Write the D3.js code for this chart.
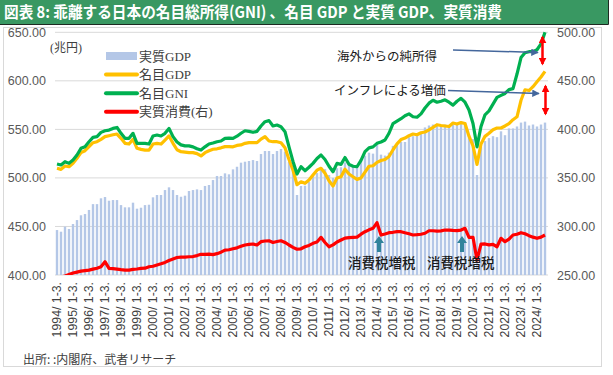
<!DOCTYPE html>
<html>
<head>
<meta charset="utf-8">
<script src="https://cdn.jsdelivr.net/npm/d3@7"></script>
<style>
  body { margin: 0; background: #fff; }
  svg { display: block; font-family: "Liberation Sans", Arial, sans-serif; }
</style>
</head>
<body>
<svg width="613" height="375"></svg>
<script>
// ---- data (trillion yen, quarterly, 1994 Q1 .. 2024 Q3) ----
const years = [1994, 1995, 1996, 1997, 1998, 1999, 2000, 2001, 2002, 2003, 2004,
  2005, 2006, 2007, 2008, 2009, 2010, 2011, 2012, 2013, 2014, 2015, 2016, 2017,
  2018, 2019, 2020, 2021, 2022, 2023, 2024];
const quarterNames = ['1-3.', '4-6.', '7-9.', '10-12.'];

const realGDP = [
  446.3, 444.6, 449.8, 447.4, 452.5, 456.6, 461.5, 462.8, 467.0, 473.0,
  473.0, 479.0, 480.3, 476.5, 477.2, 477.2, 472.0, 469.7, 469.7, 474.5,
  468.3, 469.3, 472.0, 472.4, 480.0, 482.4, 482.4, 487.5, 490.3, 487.5,
  482.4, 480.6, 481.7, 486.5, 487.5, 488.2, 487.5, 491.7, 492.7, 497.8,
  502.0, 502.0, 504.7, 503.7, 508.8, 511.5, 515.7, 516.7, 517.4, 518.4,
  517.4, 524.6, 527.7, 527.7, 524.6, 527.7, 529.8, 527.0, 516.7, 508.0,
  482.4, 491.7, 492.0, 496.0, 502.0, 505.0, 510.0, 509.0, 503.0, 500.0,
  510.0, 511.0, 516.0, 514.0, 512.0, 512.0, 519.0, 523.0, 526.0, 525.0,
  535.0, 524.0, 523.0, 526.0, 533.0, 535.0, 537.0, 537.0, 542.0, 543.0,
  545.0, 547.0,
  552.0, 554.0, 555.0, 555.0, 554.0, 555.0, 554.0, 555.0, 556.0, 557.0,
  557.0, 543.0, 540.0, 503.0, 532.0, 538.0, 541.0, 543.0, 542.0, 548.0,
  544.0, 551.0, 551.0, 553.0, 557.0, 558.0, 554.0, 555.0, 553.0, 555.0,
  557.0
];

const nominalGDP = [
  509.9, 508.8, 512.3, 511.5, 515.0, 520.2, 526.0, 528.0, 532.2, 536.3,
  537.3, 539.7, 542.5, 543.5, 544.5, 545.2, 540.8, 535.6, 534.9, 539.7,
  530.5, 529.4, 528.7, 528.7, 534.9, 535.6, 534.9, 539.0, 543.2, 535.6,
  529.0, 527.0, 526.5, 526.0, 526.0, 525.0, 522.6, 526.0, 528.0, 529.5,
  530.0, 531.0, 532.2, 532.2, 532.0, 533.5, 534.0, 535.6, 536.3, 536.3,
  536.3, 540.0, 542.5, 538.0, 537.3, 537.3, 536.3, 531.0, 519.0, 508.0,
  493.0, 496.0, 494.4, 497.8, 503.0, 508.0, 509.9, 504.7, 497.0, 491.7,
  500.0, 501.2, 509.0, 504.0, 501.2, 498.5, 500.0, 506.0, 512.0, 512.5,
  516.0, 518.0, 519.0, 522.0, 529.0, 535.0, 539.5, 541.0, 543.5, 545.2,
  544.5, 546.5,
  547.3, 549.5, 552.0, 554.8, 554.0, 553.5, 553.0, 556.5, 555.5, 557.0,
  556.0, 543.0, 533.0, 514.0, 535.0, 542.8, 546.0, 549.6, 551.4, 551.4,
  553.5, 556.0, 560.0, 563.0, 580.0, 590.8, 590.0, 594.0, 599.0, 604.0,
  609.8
];

const nominalGNI = [
  514.3, 513.3, 516.7, 515.0, 518.4, 523.6, 530.5, 532.2, 537.3, 541.8,
  542.5, 546.9, 548.6, 549.3, 551.0, 552.0, 545.9, 540.8, 540.8, 545.9,
  535.6, 535.6, 535.6, 534.9, 543.2, 544.2, 543.2, 545.9, 551.0, 542.5,
  537.0, 534.0, 533.0, 533.0, 532.0, 530.0, 528.7, 532.0, 535.0, 536.0,
  537.3, 538.0, 540.8, 541.0, 540.8, 543.0, 546.0, 548.6, 548.0, 547.0,
  548.0, 553.5, 557.9, 559.0, 553.5, 554.5, 552.8, 547.6, 532.0, 517.0,
  504.0, 511.5, 507.4, 511.0, 515.0, 520.0, 523.6, 519.0, 512.0, 506.4,
  515.0, 514.0, 521.0, 514.0, 512.0, 511.5, 518.0, 527.0, 531.0, 532.0,
  535.6, 537.0, 539.0, 546.0, 556.0, 558.5, 561.0, 564.0, 566.0, 563.0,
  562.5, 566.0,
  572.0, 577.0, 580.0, 578.0, 579.0, 580.5, 578.0, 575.0, 579.0, 582.0,
  578.0, 570.0, 556.0, 532.0, 553.0, 565.0, 569.0, 576.0, 583.0, 585.0,
  587.0, 591.0, 592.0, 607.0, 624.0, 629.0, 630.0, 630.0, 632.0, 638.0,
  650.0
];

// right axis
const realConsumption = [
  246.5, 248.0, 249.0, 250.5, 252.0, 253.0, 254.0, 254.5, 255.0, 256.0,
  257.0, 258.5, 263.7, 256.9, 256.5, 256.0, 255.5, 255.1, 255.0, 255.8,
  256.2, 256.9, 257.0, 258.5, 259.0, 260.3, 261.5, 263.0, 265.0, 266.5,
  268.0, 268.5, 268.5, 268.8, 269.0, 270.0, 271.3, 271.3, 271.5, 271.0,
  272.0, 273.5, 275.7, 276.0, 277.1, 278.0, 279.5, 280.9, 281.5, 281.9,
  280.9, 284.3, 285.0, 285.3, 283.5, 284.5, 285.3, 283.5, 280.9, 278.5,
  276.5, 277.0, 279.1, 280.5, 282.6, 284.0, 288.8, 283.5, 279.1, 281.0,
  284.0, 286.0, 288.0, 288.5, 288.8, 289.0, 292.0, 294.6, 296.5, 298.1,
  303.9, 291.2, 292.3, 293.6, 294.0, 294.6, 294.6, 293.5, 292.5, 291.2,
  291.5, 292.0, 293.0, 295.6, 295.6, 295.2, 295.5, 296.3, 296.3, 296.0,
  295.8, 296.3, 298.1, 288.8, 288.8, 265.4, 281.9, 282.0, 281.0, 281.5,
  279.1, 287.8, 284.3, 287.0, 291.2, 292.0, 293.6, 292.5, 290.5, 289.0,
  287.8, 289.0, 291.2
];

const leftTicks = [400, 450, 500, 550, 600, 650];
const rightTicks = [250, 300, 350, 400, 450, 500];

const categories = years.flatMap(y => quarterNames.map(q => `${y}/ ${q}`))
  .slice(0, realGDP.length);
const yearTicks = years.map(y => `${y}/ ${quarterNames[0]}`);

const svg = d3.select('svg');
const plotLeft = 55, plotRight = 547, plotTop = 32.3, plotBottom = 275;

const x = d3.scaleBand()
  .domain(categories)
  .range([plotLeft, plotRight])
  .paddingInner(0.4)
  .paddingOuter(0.2);
const yL = d3.scaleLinear().domain([400, 650]).range([plotBottom, plotTop]);
const yR = d3.scaleLinear().domain([250, 500]).range([plotBottom, plotTop]);
const cx = (d) => x(d) + x.bandwidth() / 2;

// title bar
svg.append('rect')
  .attr('x', 0).attr('y', 0).attr('width', 608).attr('height', 24.5)
  .attr('fill', '#399862');
svg.append('path')
  .attr('d', 'M0,24.5H608.5V0')
  .attr('fill', 'none').attr('stroke', '#1e2a22').attr('stroke-width', 1);
svg.append('text')
  .attr('x', 4).attr('y', 18)
  .attr('fill', '#fff')
  .attr('font-family', '"Noto Sans CJK JP", sans-serif')
  .attr('font-weight', 'bold')
  .attr('font-size', 16)
  .attr('textLength', 498)
  .attr('lengthAdjust', 'spacingAndGlyphs')
  .text('図表 8: 乖離する日本の名目総所得(GNI) 、名目 GDP と実質 GDP、実質消費');

// chart frame
svg.append('rect')
  .attr('x', 3.5).attr('y', 27.5).attr('width', 598).attr('height', 339)
  .attr('fill', 'none').attr('stroke', '#d9d9d9');

// gridlines
svg.append('g')
  .selectAll('line')
  .data(leftTicks)
  .join('line')
  .attr('x1', plotLeft).attr('x2', plotRight + 1)
  .attr('y1', d => yL(d)).attr('y2', d => yL(d))
  .attr('stroke', '#d9d9d9').attr('stroke-width', 1);

// axes
const axisL = svg.append('g')
  .attr('transform', `translate(${plotLeft},0)`)
  .call(d3.axisLeft(yL).tickValues(leftTicks).tickFormat(d3.format('.2f')).tickSize(0).tickPadding(9));
const axisR = svg.append('g')
  .attr('transform', `translate(${plotRight},0)`)
  .call(d3.axisRight(yR).tickValues(rightTicks).tickFormat(d3.format('.2f')).tickSize(0).tickPadding(10));
[axisL, axisR].forEach(g => {
  g.select('.domain').remove();
  g.selectAll('text')
    .attr('font-family', '"Liberation Sans", Arial, sans-serif')
    .attr('font-size', 12.5)
    .attr('fill', '#595959');
});

const axisB = svg.append('g')
  .attr('transform', `translate(0,${plotBottom})`)
  .call(d3.axisBottom(x).tickValues(yearTicks).tickSize(0));
axisB.select('.domain').remove();
axisB.selectAll('text')
  .attr('transform', 'rotate(-90)')
  .attr('x', -7).attr('y', 0).attr('dy', '0.35em')
  .attr('text-anchor', 'end')
  .attr('font-family', '"Liberation Sans", Arial, sans-serif')
  .attr('font-size', 12.3)
  .attr('fill', '#404040');

// clip for lines
svg.append('clipPath').attr('id', 'plotclip')
  .append('rect')
  .attr('x', plotLeft - 2).attr('y', 0)
  .attr('width', plotRight - plotLeft + 6).attr('height', plotBottom);

// bars: real GDP
svg.append('g')
  .selectAll('rect')
  .data(realGDP)
  .join('rect')
  .attr('x', (d, i) => x(categories[i]))
  .attr('y', d => yL(d))
  .attr('width', x.bandwidth())
  .attr('height', d => yL(400) - yL(d))
  .attr('fill', '#b4c7e7');

const lineL = d3.line().x((d, i) => cx(categories[i])).y(d => yL(d));
const lineR = d3.line().x((d, i) => cx(categories[i])).y(d => yR(d));

const lines = svg.append('g').attr('clip-path', 'url(#plotclip)');
lines.append('path').datum(nominalGDP)
  .attr('d', lineL).attr('fill', 'none')
  .attr('stroke', '#ffc000').attr('stroke-width', 3.2).attr('stroke-linejoin', 'round');
lines.append('path').datum(nominalGNI)
  .attr('d', lineL).attr('fill', 'none')
  .attr('stroke', '#00b050').attr('stroke-width', 3.2).attr('stroke-linejoin', 'round');
lines.append('path').datum(realConsumption)
  .attr('d', lineR).attr('fill', 'none')
  .attr('stroke', '#ff0000').attr('stroke-width', 3.2).attr('stroke-linejoin', 'round');

// unit + legend
svg.append('text')
  .attr('x', 50).attr('y', 52)
  .attr('font-family', '"Liberation Serif", "Noto Sans CJK JP", serif')
  .attr('font-size', 12).attr('fill', '#404040')
  .text('(兆円)');

const legendItems = [
  {name: '実質GDP', color: '#b4c7e7', type: 'bar'},
  {name: '名目GDP', color: '#ffc000', type: 'line'},
  {name: '名目GNI', color: '#00b050', type: 'line'},
  {name: '実質消費(右)', color: '#ff0000', type: 'line'}
];
const legend = svg.append('g')
  .selectAll('g')
  .data(legendItems)
  .join('g')
  .attr('transform', (d, i) => `translate(105,${56 + i * 18.6})`);
legend.filter(d => d.type === 'bar').append('rect')
  .attr('x', 1).attr('y', -4).attr('width', 31).attr('height', 8)
  .attr('fill', d => d.color);
legend.filter(d => d.type === 'line').append('line')
  .attr('x1', 1).attr('x2', 32).attr('y1', 0).attr('y2', 0)
  .attr('stroke', d => d.color).attr('stroke-width', 4).attr('stroke-linecap', 'round');
legend.append('text')
  .attr('x', 34).attr('y', 0).attr('dy', '0.35em')
  .attr('font-family', '"Liberation Serif", "Noto Sans CJK JP", serif')
  .attr('font-size', 13).attr('fill', '#404040')
  .text(d => d.name);

// annotations
const defs = svg.append('defs');
defs.append('marker').attr('id', 'bluehead')
  .attr('viewBox', '0 0 10 10').attr('refX', 9).attr('refY', 5)
  .attr('markerWidth', 5).attr('markerHeight', 5).attr('orient', 'auto')
  .append('path').attr('d', 'M0,0L10,5L0,10z').attr('fill', '#44679c');
defs.append('marker').attr('id', 'redhead')
  .attr('viewBox', '0 0 10 10').attr('refX', 8).attr('refY', 5)
  .attr('markerWidth', 3.2).attr('markerHeight', 3.2).attr('orient', 'auto-start-reverse')
  .append('path').attr('d', 'M0,0L10,5L0,10z').attr('fill', '#ff0000');

const noteFont = '"Noto Sans CJK JP", sans-serif';
svg.append('text').attr('x', 337).attr('y', 61)
  .attr('font-family', noteFont).attr('font-size', 12.5).attr('fill', '#1a1a1a')
  .text('海外からの純所得');
svg.append('text').attr('x', 334).attr('y', 95)
  .attr('font-family', noteFont).attr('font-size', 12.5).attr('fill', '#1a1a1a')
  .text('インフレによる増価');

svg.append('line').attr('x1', 453).attr('y1', 50).attr('x2', 538).attr('y2', 52.5)
  .attr('stroke', '#44679c').attr('stroke-width', 1.5).attr('marker-end', 'url(#bluehead)');
svg.append('line').attr('x1', 448).attr('y1', 90.5).attr('x2', 539).attr('y2', 93.5)
  .attr('stroke', '#44679c').attr('stroke-width', 1.5).attr('marker-end', 'url(#bluehead)');

svg.append('line').attr('x1', 542.5).attr('y1', 37).attr('x2', 542.5).attr('y2', 64)
  .attr('stroke', '#ff0000').attr('stroke-width', 2.5)
  .attr('marker-start', 'url(#redhead)').attr('marker-end', 'url(#redhead)');
svg.append('line').attr('x1', 545.5).attr('y1', 86).attr('x2', 545.5).attr('y2', 114)
  .attr('stroke', '#ff0000').attr('stroke-width', 2.5)
  .attr('marker-start', 'url(#redhead)').attr('marker-end', 'url(#redhead)');

// consumption tax hikes
const taxHikes = [{x: 379, label: 348}, {x: 462, label: 427}];
taxHikes.forEach(t => {
  svg.append('path')
    .attr('d', `M${t.x},236 L${t.x + 5},243 L${t.x + 2},243 L${t.x + 2},252 L${t.x - 2},252 L${t.x - 2},243 L${t.x - 5},243 Z`)
    .attr('fill', '#31849b');
  svg.append('text').attr('x', t.label).attr('y', 268)
    .attr('font-family', noteFont).attr('font-size', 13.5).attr('font-weight', 500)
    .attr('fill', '#1a1a1a')
    .text('消費税増税');
});

// source
svg.append('text').attr('x', 23).attr('y', 364)
  .attr('font-family', noteFont).attr('font-size', 12).attr('fill', '#404040')
  .text('出所: :内閣府、武者リサーチ');
</script>
</body>
</html>
